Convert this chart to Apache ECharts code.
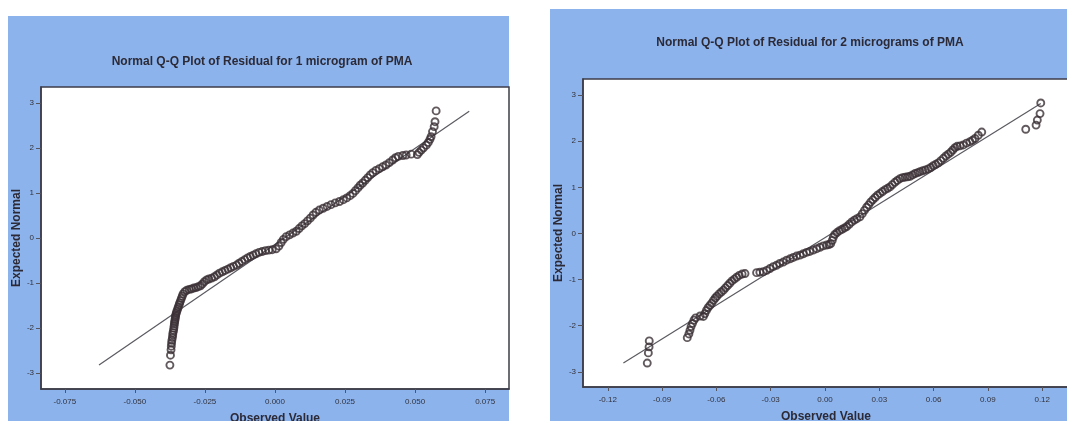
<!DOCTYPE html>
<html>
<head>
<meta charset="utf-8">
<script src="https://cdn.jsdelivr.net/npm/echarts@6/dist/echarts.min.js"></script>
<style>
  html, body { margin: 0; padding: 0; background: #fff; }
  #chart { width: 1067px; height: 421px; }
</style>
</head>
<body>
<div id="chart"></div>
<script>
// tick labels
var leftXTicks = [-0.075, -0.050, -0.025, 0.000, 0.025, 0.050, 0.075];
var rightXTicks = [-0.12, -0.09, -0.06, -0.03, 0.00, 0.03, 0.06, 0.09, 0.12];
var yTicks = [-3, -2, -1, 0, 1, 2, 3];

// reference lines (observed, expected)
var leftLine = [[-0.0628, -2.82], [0.0693, 2.81]];
var rightLine = [[-0.1114, -2.81], [0.1192, 2.82]];

// 1 microgram: [observed residual, expected normal]
var leftPoints = [
  [-0.0375,-2.82],[-0.0373,-2.60],[-0.0371,-2.48],[-0.0370,-2.40],[-0.0369,-2.33],
  [-0.0368,-2.27],[-0.0366,-2.21],[-0.0365,-2.15],[-0.0364,-2.10],[-0.0362,-2.05],
  [-0.0361,-2.00],[-0.0360,-1.95],[-0.0359,-1.90],[-0.0358,-1.86],[-0.0357,-1.82],
  [-0.0356,-1.78],[-0.0355,-1.74],[-0.0354,-1.70],[-0.0352,-1.66],[-0.0350,-1.62],
  [-0.0347,-1.57],[-0.0345,-1.53],[-0.0342,-1.48],[-0.0340,-1.44],[-0.0337,-1.39],
  [-0.0334,-1.34],[-0.0331,-1.29],[-0.0328,-1.24],[-0.0322,-1.19],[-0.0315,-1.16],
  [-0.0306,-1.14],[-0.0298,-1.13],[-0.0290,-1.11],[-0.0282,-1.10],[-0.0274,-1.08],
  [-0.0266,-1.06],[-0.0259,-1.02],[-0.0252,-0.97],[-0.0244,-0.93],[-0.0236,-0.91],
  [-0.0226,-0.89],[-0.0216,-0.86],[-0.0207,-0.82],[-0.0198,-0.78],[-0.0188,-0.75],
  [-0.0178,-0.72],[-0.0168,-0.69],[-0.0158,-0.66],[-0.0148,-0.63],[-0.0137,-0.60],
  [-0.0128,-0.56],[-0.0118,-0.52],[-0.0108,-0.48],[-0.0098,-0.44],[-0.0088,-0.41],
  [-0.0078,-0.38],[-0.0068,-0.35],[-0.0057,-0.32],[-0.0046,-0.30],[-0.0034,-0.28],
  [-0.0022,-0.27],[-0.0010,-0.26],[0.0004,-0.24],[0.0014,-0.18],[0.0022,-0.10],
  [0.0030,-0.03],[0.0040,0.03],[0.0052,0.07],[0.0064,0.11],[0.0076,0.15],
  [0.0086,0.21],[0.0096,0.27],[0.0106,0.32],[0.0116,0.38],[0.0126,0.44],
  [0.0136,0.51],[0.0146,0.57],[0.0158,0.62],[0.0172,0.66],[0.0186,0.70],
  [0.0200,0.74],[0.0215,0.78],[0.0230,0.81],[0.0244,0.85],[0.0256,0.89],
  [0.0268,0.94],[0.0278,0.99],[0.0287,1.05],[0.0296,1.11],[0.0304,1.17],
  [0.0313,1.22],[0.0322,1.28],[0.0331,1.34],[0.0340,1.40],[0.0349,1.45],
  [0.0360,1.50],[0.0372,1.54],[0.0384,1.58],[0.0396,1.62],[0.0408,1.67],
  [0.0420,1.73],[0.0430,1.78],[0.0440,1.81],[0.0456,1.83],[0.0468,1.84],
  [0.0486,1.86],[0.0508,1.85],[0.0514,1.90],[0.0522,1.95],[0.0530,2.00],
  [0.0540,2.06],[0.0547,2.12],[0.0553,2.19],[0.0557,2.25],[0.0562,2.36],
  [0.0568,2.47],[0.0571,2.58],[0.0575,2.82]
];

// 2 micrograms
var rightPoints = [
  [-0.0982,-2.81],[-0.0976,-2.59],[-0.0972,-2.46],[-0.0971,-2.33],[-0.0761,-2.26],
  [-0.0752,-2.18],[-0.0746,-2.10],[-0.0740,-2.02],[-0.0732,-1.95],[-0.0724,-1.88],
  [-0.0715,-1.83],[-0.0690,-1.79],[-0.0672,-1.80],[-0.0664,-1.74],[-0.0655,-1.67],
  [-0.0646,-1.61],[-0.0636,-1.56],[-0.0626,-1.51],[-0.0616,-1.45],[-0.0606,-1.40],
  [-0.0597,-1.36],[-0.0585,-1.31],[-0.0573,-1.27],[-0.0561,-1.23],[-0.0550,-1.18],
  [-0.0538,-1.13],[-0.0526,-1.08],[-0.0514,-1.03],[-0.0501,-0.99],[-0.0488,-0.95],
  [-0.0474,-0.91],[-0.0458,-0.88],[-0.0442,-0.87],[-0.0378,-0.85],[-0.0360,-0.84],
  [-0.0341,-0.83],[-0.0322,-0.80],[-0.0304,-0.76],[-0.0286,-0.72],[-0.0268,-0.69],
  [-0.0250,-0.65],[-0.0231,-0.62],[-0.0212,-0.58],[-0.0193,-0.55],[-0.0175,-0.52],
  [-0.0157,-0.49],[-0.0138,-0.47],[-0.0120,-0.44],[-0.0102,-0.41],[-0.0084,-0.39],
  [-0.0065,-0.36],[-0.0046,-0.33],[-0.0028,-0.30],[-0.0010,-0.27],[0.0009,-0.25],
  [0.0022,-0.24],[0.0032,-0.22],[0.0040,-0.15],[0.0046,-0.08],[0.0054,-0.02],
  [0.0066,0.02],[0.0080,0.06],[0.0094,0.09],[0.0108,0.12],[0.0120,0.15],
  [0.0134,0.20],[0.0148,0.25],[0.0162,0.29],[0.0176,0.32],[0.0193,0.36],
  [0.0206,0.43],[0.0218,0.50],[0.0230,0.57],[0.0241,0.62],[0.0252,0.68],
  [0.0264,0.73],[0.0277,0.78],[0.0290,0.83],[0.0304,0.87],[0.0318,0.91],
  [0.0332,0.95],[0.0346,0.98],[0.0359,1.01],[0.0372,1.06],[0.0386,1.11],
  [0.0400,1.15],[0.0414,1.19],[0.0428,1.21],[0.0442,1.22],[0.0456,1.23],
  [0.0470,1.24],[0.0484,1.27],[0.0498,1.30],[0.0512,1.32],[0.0525,1.34],
  [0.0540,1.36],[0.0555,1.38],[0.0570,1.40],[0.0584,1.43],[0.0598,1.47],
  [0.0612,1.50],[0.0626,1.53],[0.0640,1.58],[0.0654,1.63],[0.0668,1.68],
  [0.0681,1.72],[0.0694,1.76],[0.0706,1.81],[0.0718,1.86],[0.0730,1.89],
  [0.0746,1.90],[0.0764,1.92],[0.0782,1.96],[0.0801,1.99],[0.0815,2.02],
  [0.0829,2.06],[0.0847,2.13],[0.0866,2.20],[0.1109,2.26],[0.1166,2.35],
  [0.1173,2.46],[0.1188,2.60],[0.1192,2.83]
];

var FONT = 'Liberation Sans, Arial, sans-serif';
var DARK = '#2c2a36';
var BLUE = '#8cb3ec';

function xAxisFor(idx, min, max, ticks, digits) {
  return {
    type: 'value', gridIndex: idx, min: min, max: max,
    name: 'Observed Value', nameLocation: 'middle', nameGap: 24,
    nameTextStyle: { fontFamily: FONT, fontWeight: 'bold', fontSize: 12, color: DARK },
    axisLine: { show: true, onZero: false, lineStyle: { color: '#3d3d48', width: 1.5 } },
    axisTick: { show: true, length: 4, customValues: ticks, lineStyle: { color: '#55555f' } },
    axisLabel: {
      customValues: ticks, fontFamily: FONT, fontSize: 8, color: '#33333d', margin: 9,
      formatter: function (v) { return v.toFixed(digits); }
    },
    splitLine: { show: false }
  };
}

function yAxisFor(idx, min, max) {
  return {
    type: 'value', gridIndex: idx, min: min, max: max,
    name: 'Expected Normal', nameLocation: 'middle', nameGap: 18,
    nameTextStyle: { fontFamily: FONT, fontWeight: 'bold', fontSize: 12, color: DARK },
    axisLine: { show: true, onZero: false, lineStyle: { color: '#3d3d48', width: 1.5 } },
    axisTick: { show: true, length: 5, customValues: yTicks, lineStyle: { color: '#55555f' } },
    axisLabel: { customValues: yTicks, fontFamily: FONT, fontSize: 8, color: '#33333d', margin: 7 },
    splitLine: { show: false }
  };
}

var pointStyle = { color: 'rgba(0,0,0,0)', borderColor: '#3a2f34', borderWidth: 1.9 };

var chart = echarts.init(document.getElementById('chart'), null, { renderer: 'canvas' });
var option = {
  backgroundColor: '#ffffff',
  animation: false,
  graphic: [
    { type: 'rect', z: -10, shape: { x: 8, y: 16, width: 501, height: 405 }, style: { fill: BLUE } },
    { type: 'rect', z: -10, shape: { x: 550, y: 9, width: 517, height: 412 }, style: { fill: BLUE } },
    { type: 'text', z: 10, style: { x: 262, y: 62, text: 'Normal Q-Q Plot of Residual for 1 microgram of PMA',
      fill: DARK, font: 'bold 12px ' + FONT, textAlign: 'center', textVerticalAlign: 'middle' } },
    { type: 'text', z: 10, style: { x: 810, y: 43, text: 'Normal Q-Q Plot of Residual for 2 micrograms of PMA',
      fill: DARK, font: 'bold 12px ' + FONT, textAlign: 'center', textVerticalAlign: 'middle' } }
  ],
  grid: [
    { left: 41, top: 87, width: 468, height: 302, outerBoundsMode: 'none', containLabel: false,
      show: true, backgroundColor: '#ffffff', borderColor: '#3d3d48', borderWidth: 1.5 },
    { left: 583, top: 79, width: 486, height: 308, outerBoundsMode: 'none', containLabel: false,
      show: true, backgroundColor: '#ffffff', borderColor: '#3d3d48', borderWidth: 1.5 }
  ],
  xAxis: [
    xAxisFor(0, -0.0835, 0.0835, leftXTicks, 3),
    xAxisFor(1, -0.1337, 0.1348, rightXTicks, 2)
  ],
  yAxis: [
    yAxisFor(0, -3.35, 3.35),
    yAxisFor(1, -3.33, 3.35)
  ],
  series: [
    { type: 'line', xAxisIndex: 0, yAxisIndex: 0, data: leftLine, showSymbol: false,
      lineStyle: { color: '#5a5a60', width: 1.2 }, z: 2 },
    { type: 'scatter', xAxisIndex: 0, yAxisIndex: 0, data: leftPoints, symbol: 'circle', symbolSize: 7,
      itemStyle: pointStyle, z: 3 },
    { type: 'line', xAxisIndex: 1, yAxisIndex: 1, data: rightLine, showSymbol: false,
      lineStyle: { color: '#5a5a60', width: 1.2 }, z: 2 },
    { type: 'scatter', xAxisIndex: 1, yAxisIndex: 1, data: rightPoints, symbol: 'circle', symbolSize: 7,
      itemStyle: pointStyle, z: 3 }
  ]
};
chart.setOption(option);
window.addEventListener('resize', chart.resize);
</script>
</body>
</html>
